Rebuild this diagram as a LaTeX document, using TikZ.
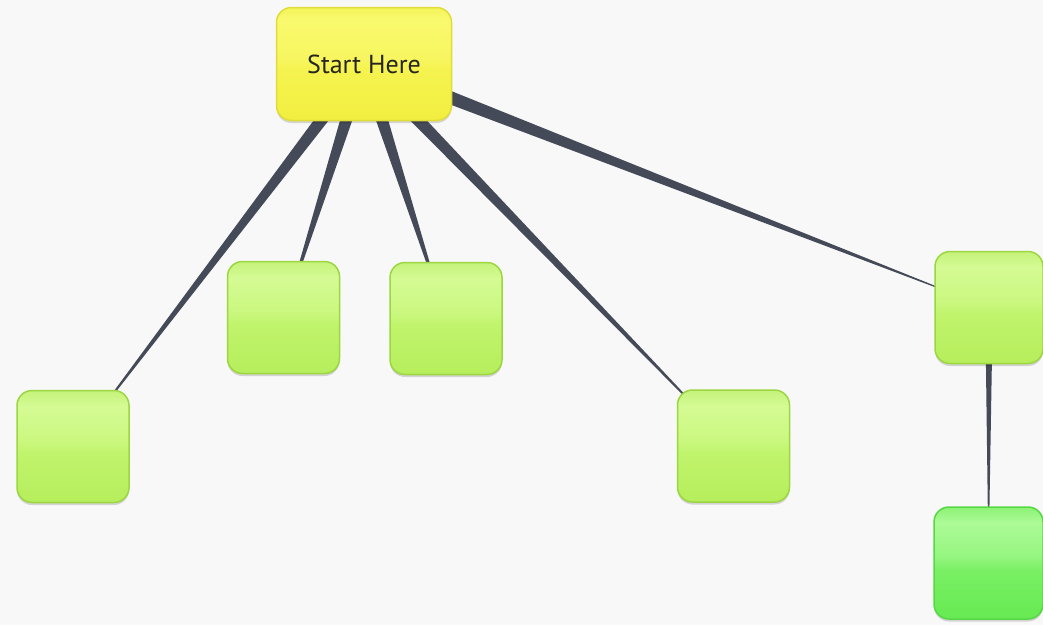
\documentclass[tikz,border=0pt]{standalone}
\usepackage{fontspec}
\setmainfont{PT Sans}
\usetikzlibrary{calc,shadows}
\pgfdeclarelayer{bgl}
\pgfdeclarelayer{links}
\pgfsetlayers{bgl,links,main}
\definecolor{bgcol}{HTML}{F8F8F8}
\definecolor{linkcol}{HTML}{454A58}
\definecolor{ylborder}{HTML}{E0DC38}
\definecolor{grborder}{HTML}{9CD640}
\definecolor{dgborder}{HTML}{56D844}
\definecolor{txtcol}{HTML}{26261E}
\definecolor{yA}{HTML}{F2EE40}
\definecolor{yB}{HTML}{F5F350}
\definecolor{yC}{HTML}{F7F660}
\definecolor{yD}{HTML}{F9F96E}
\definecolor{yE}{HTML}{F4F45A}
\definecolor{gA}{HTML}{B6EE5C}
\definecolor{gB}{HTML}{C0F46C}
\definecolor{gC}{HTML}{CBF880}
\definecolor{gD}{HTML}{D4FB94}
\definecolor{gE}{HTML}{C4F27A}
\definecolor{dA}{HTML}{66EA52}
\definecolor{dB}{HTML}{7AF064}
\definecolor{dC}{HTML}{96F680}
\definecolor{dD}{HTML}{ACFA96}
\definecolor{dE}{HTML}{8CF276}
\pgfdeclareverticalshading{yellowgloss}{100bp}{%
  color(0bp)=(yA); color(25bp)=(yA); color(48bp)=(yB); color(52bp)=(yC);
  color(70bp)=(yD); color(75bp)=(yE); color(100bp)=(yE)}
\pgfdeclareverticalshading{greengloss}{100bp}{%
  color(0bp)=(gA); color(25bp)=(gA); color(47bp)=(gB); color(53bp)=(gC);
  color(68bp)=(gD); color(75bp)=(gE); color(100bp)=(gE)}
\pgfdeclareverticalshading{deepgloss}{100bp}{%
  color(0bp)=(dA); color(25bp)=(dA); color(47bp)=(dB); color(53bp)=(dC);
  color(68bp)=(dD); color(75bp)=(dE); color(100bp)=(dE)}
\newcommand\mytaper[3]{%
  \fill[link] ($(#1.center)!#3!90:(#2.center)$) -- ($(#1.center)!#3!-90:(#2.center)$) -- (#2.center) -- cycle;}
\begin{document}
\begin{tikzpicture}[x=1pt,y=-1pt,
  boxbase/.style={rectangle, rounded corners=15pt, inner sep=0pt, line width=1.5pt,
    drop shadow={shadow xshift=0pt, shadow yshift=-2.5pt, opacity=0.15, fill=black}},
  startbox/.style={boxbase, draw=ylborder, shading=yellowgloss,
    minimum width=175pt, minimum height=113pt, text=txtcol,
    font=\fontsize{26}{29}\selectfont},
  leaf/.style={boxbase, draw=grborder, shading=greengloss,
    minimum width=112pt, minimum height=112pt},
  deepleaf/.style={boxbase, draw=dgborder, shading=deepgloss,
    minimum width=109pt, minimum height=112pt},
  link/.style={fill=linkcol}]
\begin{pgfonlayer}{bgl}
  \fill[bgcol] (0,0) rectangle (1043,625);
\end{pgfonlayer}
\useasboundingbox (0,0) rectangle (1043,625);
\node[startbox] (start) at (364,64) {Start Here};
\node[leaf] (a) at (73,446.5) {};
\node[leaf] (b) at (283.5,317.5) {};
\node[leaf] (c) at (446,318.5) {};
\node[leaf] (d) at (733.5,446) {};
\node[leaf, minimum width=108pt] (e) at (989,307.5) {};
\node[deepleaf] (f) at (988.5,563) {};
\begin{pgfonlayer}{links}
  \mytaper{start}{a}{7pt}
  \mytaper{start}{b}{7.5pt}
  \mytaper{start}{c}{7.5pt}
  \mytaper{start}{d}{7pt}
  \mytaper{start}{e}{7.5pt}
  \mytaper{e}{f}{3.8pt}
\end{pgfonlayer}
\end{tikzpicture}
\end{document}
